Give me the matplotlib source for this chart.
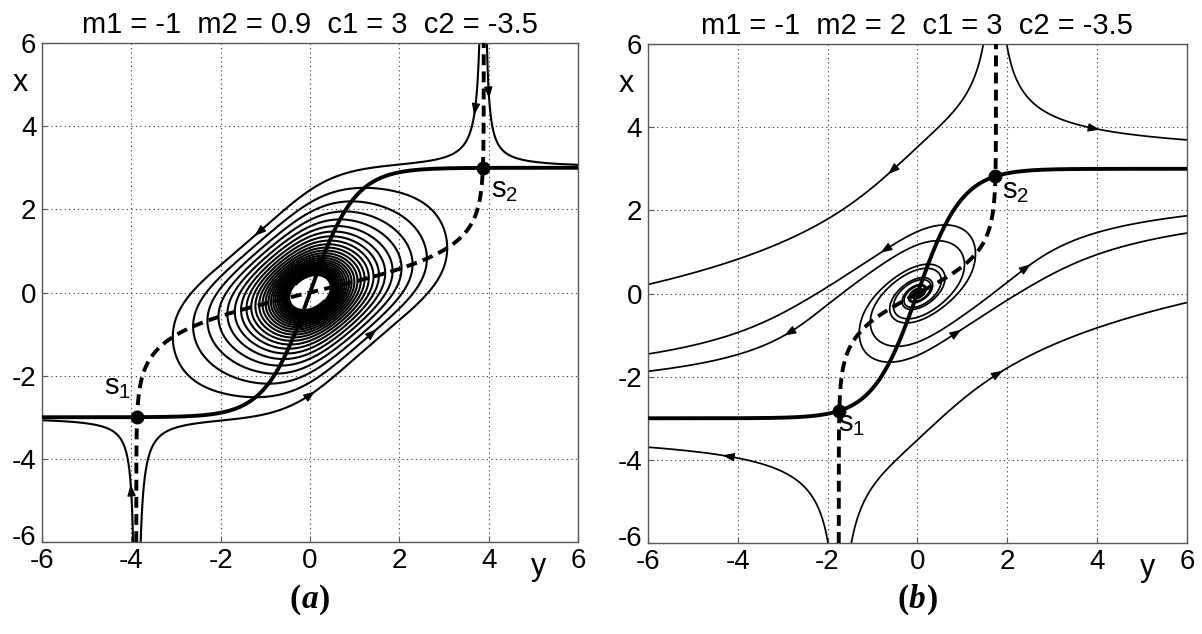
import math
import numpy as np
import matplotlib
matplotlib.use("Agg")
import matplotlib.pyplot as plt
from matplotlib.transforms import ScaledTranslation

plt.rcParams['font.family'] = ['Liberation Sans', 'DejaVu Sans']
plt.rcParams['mathtext.fontset'] = 'custom'
plt.rcParams['mathtext.rm'] = 'Liberation Sans'
plt.rcParams['mathtext.it'] = 'Liberation Sans:italic'
plt.rcParams['axes.unicode_minus'] = False

# system: dx/dt = m1*x + c1*tanh(y),  dy/dt = m2*y + c2*tanh(x)
# parameters (m1, m2, c1, c2)
params_a = (-1.0, 0.9, 3.0, -3.5)
params_b = (-1.0, 2.0, 3.0, -3.5)
titles = ['m1 = -1  m2 = 0.9  c1 = 3  c2 = -3.5',
          'm1 = -1  m2 = 2  c1 = 3  c2 = -3.5']
captions = ['a', 'b']

# trajectory anchor points (y, x),
# with time run forward and backward from each anchor
anchors_a = [(3.79, 6.0), (3.96, 6.0), (-3.79, -6.0), (-3.96, -6.0)]
tfwd_a = [42, 20, 42, 20]
tback_a = [0, 0, 0, 0]
anchors_b = [(1.47, 6.0), (1.99, 6.0), (-1.47, -6.0), (-1.99, -6.0),
             (0.6, 1.65), (0.45, 1.27), (-0.6, -1.65), (-0.45, -1.27)]
tfwd_b = [20, 20, 20, 20, 10, 10, 10, 10]
tback_b = [0, 0, 0, 0, 12, 12, 12, 12]

# arrow positions (y, x)
arrows_a = [(3.66, 4.27), (4.09, 4.67), (-1.26, 1.37), (-4.12, -4.62),
            (0.11, -2.36), (1.48, -0.87)]
arrows_b = [(-0.61, 2.84), (4.06, 3.92), (-0.82, 0.96), (2.52, 0.72),
            (-2.97, -1.0), (-4.34, -3.92), (0.98, -0.88), (1.88, -1.8)]

# saddle labels: text, y, x of baseline-left, start guess for the saddle
labels_a = [('s$_1$', -4.62, -2.45, -3.9), ('s$_2$', 4.05, 2.3, 3.9)]
labels_b = [('s$_1$', -1.77, -3.3, -1.7), ('s$_2$', 1.88, 2.3, 1.7)]

ticks = [-6, -4, -2, 0, 2, 4, 6]


def field(x, y, p):
    m1, m2, c1, c2 = p
    return m1 * x + c1 * math.tanh(y), m2 * y + c2 * math.tanh(x)


def integrate(y0, x0, p, t, dt):
    xs, ys = [x0], [y0]
    x, y = x0, y0
    for _ in range(int(t / abs(dt))):
        k1x, k1y = field(x, y, p)
        k2x, k2y = field(x + 0.5 * dt * k1x, y + 0.5 * dt * k1y, p)
        k3x, k3y = field(x + 0.5 * dt * k2x, y + 0.5 * dt * k2y, p)
        k4x, k4y = field(x + dt * k3x, y + dt * k3y, p)
        x += dt * (k1x + 2 * k2x + 2 * k3x + k4x) / 6
        y += dt * (k1y + 2 * k2y + 2 * k3y + k4y) / 6
        xs.append(x)
        ys.append(y)
        if abs(x) > 6.5 or abs(y) > 6.5:
            break
    return ys, xs


def path(y0, x0, p, tf, tb, h=0.004):
    yf, xf = integrate(y0, x0, p, tf, h)
    yb, xb = integrate(y0, x0, p, tb, -h)
    return np.array(yb[::-1] + yf[1:]), np.array(xb[::-1] + xf[1:])


def saddle(p, yg):
    m1, m2, c1, c2 = p
    y = yg
    for _ in range(200):
        y = -c2 / m2 * math.tanh(-c1 / m1 * math.tanh(y))
    return y, -c1 / m1 * math.tanh(y)


def panel(ax, p, anchors, tf, tb, arrows, labels, title, cap, lw):
    paths = [path(y0, x0, p, a, b) for (y0, x0), a, b in zip(anchors, tf, tb)]
    for Y, X in paths:
        ax.plot(Y, X, color='k', lw=lw, zorder=2)

    m1, m2, c1, c2 = p
    s = np.linspace(-6, 6, 600)
    ax.plot(s, -c1 / m1 * np.tanh(s), color='k', lw=2.8, zorder=3)
    ax.plot(-c2 / m2 * np.tanh(s), s, color='k', lw=2.8,
            dashes=(2.8, 1.6), zorder=3)

    allY = np.concatenate([q[0] for q in paths])
    allX = np.concatenate([q[1] for q in paths])
    for ya, xa in arrows:
        i = np.argmin((allY - ya) ** 2 + (allX - xa) ** 2)
        y0, x0 = allY[i], allX[i]
        dx, dy = field(x0, y0, p)
        n = math.hypot(dx, dy)
        ax.annotate('', xy=(y0, x0), xytext=(y0 - 0.06 * dy / n, x0 - 0.06 * dx / n),
                    arrowprops=dict(arrowstyle='-|>,head_length=0.55,head_width=0.2',
                                    color='k', lw=0.8, mutation_scale=13,
                                    shrinkA=0, shrinkB=0), zorder=4)

    for txt, yt, xt, yg in labels:
        ys, xs = saddle(p, yg)
        ax.plot(ys, xs, 'o', color='k', ms=9, zorder=5)
        ax.text(yt, xt, txt, fontsize=21, ha='left', va='baseline', zorder=6)

    ax.set_xlim(-6, 6)
    ax.set_ylim(-6, 6)
    ax.set_xticks(ticks)
    ax.set_yticks(ticks)
    ax.tick_params(direction='in', length=4, labelsize=20, pad=4, color='0.35')
    ax.grid(True, color='0.2', lw=0.8, linestyle=(0, (1, 3)))
    for sp in ax.spines.values():
        sp.set_color('0.35')
        sp.set_linewidth(1.0)
    ax.set_title(title, fontsize=21, pad=7)
    ax.text(-0.04, 0.92, 'x', transform=ax.transAxes, fontsize=22,
            ha='center', va='center')
    ax.text(0.927, -0.05, 'y', transform=ax.transAxes, fontsize=22,
            ha='center', va='center')

    # lift the lowest y tick label a little so it clears the x tick label
    fig.canvas.draw()
    lab = ax.get_yticklabels()[0]
    lab.set_transform(lab.get_transform() + ScaledTranslation(0, 5 / 72, fig.dpi_scale_trans))

    box = ax.get_position()
    cx = box.x0 + box.width / 2
    kw = dict(xycoords='figure fraction', textcoords='offset points',
              fontsize=24, va='center', family='Liberation Serif', weight='bold')
    ax.annotate(cap, (cx, 0.054), xytext=(0, 0), ha='center', style='italic', **kw)
    ax.annotate('(', (cx, 0.054), xytext=(-6.5, 0), ha='right', **kw)
    ax.annotate(')', (cx, 0.054), xytext=(6.5, 0), ha='left', **kw)


fig = plt.figure(figsize=(12.02, 6.34), dpi=100)
ax1 = fig.add_axes([0.0349, 0.1451, 0.446, 0.787])
ax2 = fig.add_axes([0.539, 0.1435, 0.4484, 0.787])

panel(ax1, params_a, anchors_a, tfwd_a, tback_a, arrows_a, labels_a,
      titles[0], captions[0], 1.5)
panel(ax2, params_b, anchors_b, tfwd_b, tback_b, arrows_b, labels_b,
      titles[1], captions[1], 1.25)

fig.savefig('out.png', dpi=100)
